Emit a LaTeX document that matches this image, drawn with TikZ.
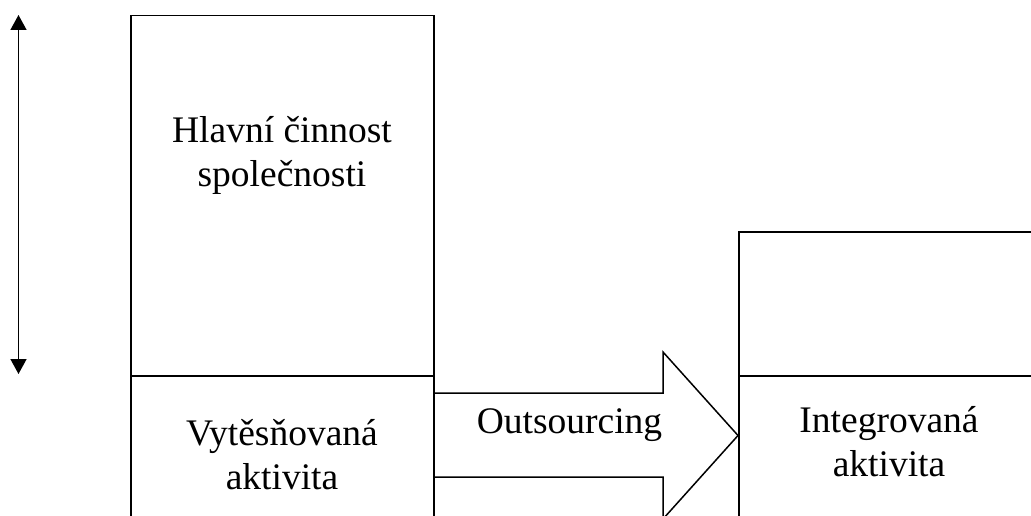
\documentclass[tikz,border=0pt]{standalone}
\usepackage{fontspec}
\setmainfont{Liberation Serif}
\usetikzlibrary{arrows.meta}
\begin{document}
\begin{tikzpicture}[x=1pt,y=-1pt,line width=1.5pt]
\useasboundingbox (0,0) rectangle (1031,516);
\clip (0,0) rectangle (1031,516);
\begin{scope}[every node/.style={draw, rectangle, inner sep=0pt, anchor=north west}]
    \node[minimum width=303pt, minimum height=360pt] (hlavni) at (130,15) {};
    \node[minimum width=303pt, minimum height=180pt] (vytes) at (130,375) {};
    \node[minimum width=302pt, minimum height=144pt] (prazdny) at (738,231) {};
    \node[minimum width=302pt, minimum height=180pt] (integ) at (738,375) {};
\end{scope}
\begin{scope}[every node/.style={align=center, inner sep=0pt, font=\fontsize{37.5}{44}\selectfont}]
    \node (thlavni) at (282,155) {Hlavní činnost\\společnosti};
    \node (tvytes) at (282,455) {Vytěsňovaná\\aktivita};
    \node (tinteg) at (889,442) {Integrovaná\\aktivita};
    \node (tout) at (569.5,425) {Outsourcing};
\end{scope}
% sipka outsourcingu
\draw (vytes.east |- 0,393) -- (663,393) -- (663,352) -- (738,435.5)
    -- (663,519) -- (663,477) -- (vytes.east |- 0,477);
% obousmerna sipka vlevo
\coordinate (nahore) at (18.5,15);
\coordinate (dole) at (18.5,374);
\draw[{Triangle[length=15pt,width=16pt]}-{Triangle[length=15pt,width=16pt]}] (nahore) -- (dole);
\end{tikzpicture}
\end{document}
